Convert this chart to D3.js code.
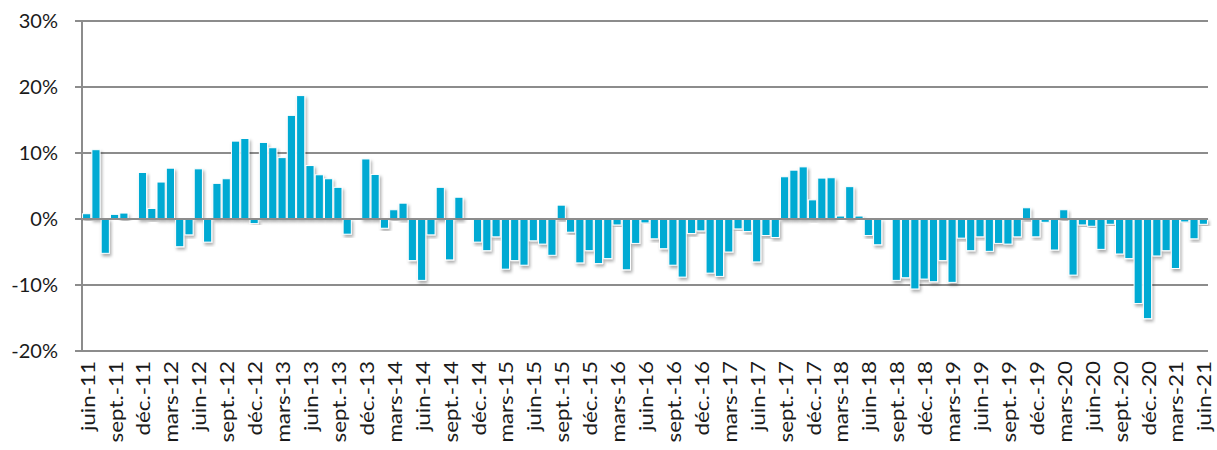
<!DOCTYPE html>
<html>
<head>
<meta charset="utf-8">
<script src="https://cdn.jsdelivr.net/npm/d3@7"></script>
<style>
  html, body { margin: 0; padding: 0; background: #fff; }
  svg { display: block; }
  text { font-family: Lato, "Open Sans", sans-serif; fill: #1a1a1a; }
</style>
</head>
<body>
<svg id="chart" width="1217" height="450"></svg>
<script>
// Monthly change, June 2011 to June 2021 (percent)
const months = [];
const monthNames = ["janv.", "févr.", "mars", "avr.", "mai", "juin", "juil.", "août", "sept.", "oct.", "nov.", "déc."];
for (let y = 2011, m = 5; y < 2021 || (y === 2021 && m <= 5); ) {
  months.push(monthNames[m] + "-" + String(y).slice(2));
  m++; if (m === 12) { m = 0; y++; }
}

const values = [
  0.8, 10.5, -5.2, 0.7, 0.9, 0, 7.05, 1.6, 5.6, 7.7,
  -4.2, -2.4, 7.6, -3.5, 5.4, 6.1, 11.8, 12.2, -0.7, 11.6,
  10.8, 9.3, 15.7, 18.7, 8.1, 6.7, 6.1, 4.8, -2.3, 0,
  9.1, 6.75, -1.4, 1.4, 2.4, -6.3, -9.3, -2.4, 4.8, -6.2,
  3.3, 0, -3.5, -4.8, -2.7, -7.6, -6.3, -7.0, -3.3, -3.8,
  -5.5, 2.1, -2.0, -6.65, -4.8, -6.75, -6.0, -0.9, -7.7, -3.7,
  -0.6, -3.0, -4.5, -7.0, -8.8, -2.2, -1.8, -8.2, -8.7, -5.0,
  -1.5, -1.9, -6.5, -2.5, -2.8, 6.4, 7.4, 7.9, 2.9, 6.2,
  6.25, 0.45, 4.9, 0.45, -2.5, -3.9, 0, -9.3, -8.9, -10.6,
  -9.1, -9.5, -6.3, -9.6, -2.9, -4.8, -2.7, -4.9, -3.7, -3.8,
  -2.7, 1.7, -2.7, -0.5, -4.7, 1.4, -8.5, -0.9, -1.1, -4.6,
  -0.8, -5.3, -6.0, -12.8, -15.1, -5.6, -4.8, -7.5, -0.45, -3.0,
  -0.8
];

const yTicks = [-20, -10, 0, 10, 20, 30];
// Category labels shown every third month, starting at June 2011
const xLabels = months.filter((d, i) => i % 3 === 0);

const svg = d3.select("#chart");
const margin = { left: 82, right: 9, top: 21, bottom: 99 };
const W = 1217, H = 450;

const x = d3.scaleBand()
  .domain(months)
  .range([margin.left, W - margin.right])
  .paddingInner(0.12)
  .paddingOuter(0.06);

const y = d3.scaleLinear()
  .domain([-20, 30])
  .range([H - margin.bottom, margin.top]);

const defs = svg.append("defs");
const shadow = defs.append("filter").attr("id", "shadow")
  .attr("x", "-50%").attr("y", "-20%").attr("width", "200%").attr("height", "140%");
shadow.append("feDropShadow")
  .attr("dx", 1.5).attr("dy", 2.5).attr("stdDeviation", 1.6)
  .attr("flood-color", "#000").attr("flood-opacity", 0.32);

// Horizontal gridlines
svg.append("g").selectAll("line")
  .data(yTicks)
  .join("line")
  .attr("x1", margin.left - 7)
  .attr("x2", W - margin.right)
  .attr("y1", d => y(d))
  .attr("y2", d => y(d))
  .attr("stroke", "#8c8c8c")
  .attr("stroke-width", 2);

// Vertical axis line
svg.append("line")
  .attr("x1", margin.left).attr("x2", margin.left)
  .attr("y1", y(30)).attr("y2", y(-20))
  .attr("stroke", "#8c8c8c").attr("stroke-width", 2);

// Bars
svg.append("g").selectAll("rect")
  .data(values.map((v, i) => ({ m: months[i], v })).filter(d => d.v !== 0))
  .join("rect")
  .attr("x", d => x(d.m))
  .attr("width", x.bandwidth())
  .attr("y", d => y(Math.max(0, d.v)))
  .attr("height", d => Math.abs(y(d.v) - y(0)))
  .attr("fill", "#00aad3")
  .attr("stroke", "#ffffff")
  .attr("stroke-width", 1)
  .attr("filter", "url(#shadow)");

// Zero line on top of bars
svg.append("line")
  .attr("x1", margin.left).attr("x2", W - margin.right)
  .attr("y1", y(0)).attr("y2", y(0))
  .attr("stroke", "#8c8c8c").attr("stroke-width", 2);

// Y axis labels
svg.append("g").selectAll("text")
  .data(yTicks)
  .join("text")
  .attr("x", 58)
  .attr("y", d => y(d))
  .attr("dy", "0.35em")
  .attr("text-anchor", "end")
  .attr("font-size", 20)
  .text(d => d + "%");

// X axis labels, rotated and drawn slightly elongated along the reading direction
svg.append("g").selectAll("text")
  .data(xLabels)
  .join("text")
  .attr("transform", d => `translate(${x(d) + x.bandwidth() / 2 + 1},${y(-20) + 10}) rotate(-90) scale(1.12,1)`)
  .attr("dy", "0.35em")
  .attr("text-anchor", "end")
  .attr("font-size", 20)
  .text(d => d);
</script>
</body>
</html>
